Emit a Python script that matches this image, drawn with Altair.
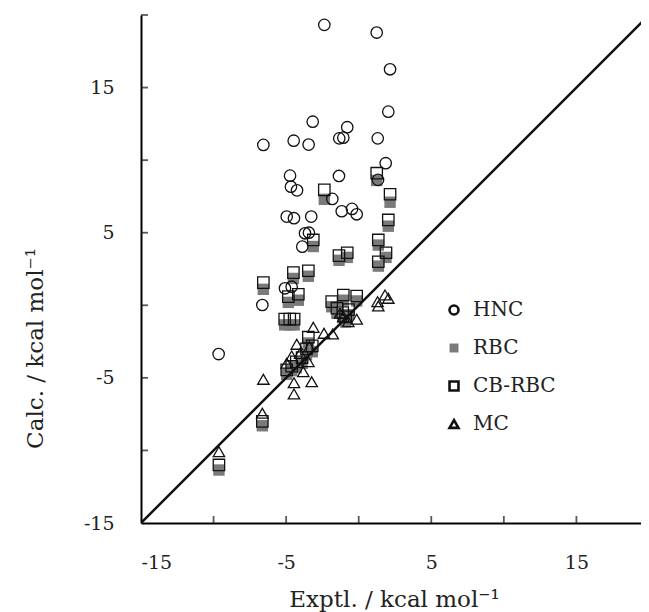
import altair as alt
import pandas as pd

# ---- data ----
hnc_x = [-2.37, 1.24, 2.16, 2.04, -3.17, -0.79, -1.34, -1.06, 1.31, -6.57, -4.48, -3.45, 1.86,
         -4.73, -1.36, 1.33, -4.67, -4.25, -1.82, -1.17, -0.46, -0.14, -4.96, -4.46, -3.27,
         -3.70, -3.43, -3.89, -5.08, -4.62, -6.64, -9.65]
hnc_y = [19.32, 18.79, 16.26, 13.34, 12.65, 12.27, 11.5, 11.55, 11.5, 11.05, 11.34, 11.07, 9.79,
         8.93, 8.91, 8.64, 8.17, 7.92, 7.33, 6.48, 6.64, 6.27, 6.11, 6.0, 6.11,
         4.96, 5.0, 4.04, 1.17, 1.28, 0.02, -3.36]

cb_x = [1.24, -2.37, 2.16, 2.04, -3.13, 1.35, -1.36, -0.79, 1.88, 1.35, -6.57, -4.5, -3.47,
        -4.85, -4.16, -5.1, -4.75, -4.45, -1.86, -1.06, -0.14, -1.5, -1.1, -0.7, -0.9,
        -3.47, -3.6, -3.2, -3.9, -4.3, -4.96, -4.62, -6.64, -9.63]
cb_y = [9.1, 7.95, 7.65, 5.88, 4.5, 4.5, 3.42, 3.62, 3.62, 3.0, 1.56, 2.25, 2.38,
        0.6, 0.76, -0.95, -0.95, -0.95, 0.25, 0.71, 0.64, -0.2, -0.5, -0.3, -0.8,
        -2.2, -3.0, -2.8, -3.6, -3.9, -4.45, -4.2, -8.0, -11.0]

rbc_x = [1.24, -2.37, 2.16, 2.04, -3.13, 1.35, -1.36, -0.79, 1.88, 1.35, -6.57, -4.5, -3.47,
         -4.85, -4.16, -5.1, -4.75, -4.45, -1.86, -1.06, -0.14, -1.5, -1.1, -0.7, -0.9,
         -3.47, -3.6, -3.2, -3.9, -4.3, -4.96, -4.62, -6.64, -9.63]
rbc_y = [8.6, 7.3, 7.1, 5.45, 4.05, 4.15, 3.1, 3.3, 3.3, 2.7, 1.1, 1.85, 2.0,
         0.2, 0.35, -1.35, -1.35, -1.35, -0.1, 0.35, 0.3, -0.55, -0.85, -0.65, -1.15,
         -2.6, -3.4, -3.2, -4.0, -4.3, -4.75, -4.5, -8.3, -11.35]

mc_x = [1.81, 2.04, 1.30, 1.35, -3.13, -2.39, -1.79, -4.27, -4.62, -4.96, -6.57, -3.24,
        -4.46, -4.46, -3.82, -3.47, -6.64, -9.63, -0.72, -0.14, -1.29, -1.06, -4.04, -3.4]
mc_y = [0.71, 0.48, 0.25, -0.05, -1.52, -1.93, -1.98, -2.69, -3.49, -3.99, -5.1, -5.27,
        -5.33, -6.11, -4.57, -3.88, -7.44, -10.09, -1.13, -0.96, -0.55, -0.78, -3.31, -2.85]

series_names = ["HNC", "RBC", "CB-RBC", "MC"]
diag_vals = [-15, 20]
x_tick_vals = [-10, -5, 0, 5, 10, 15]
y_tick_vals = [-10, -5, 0, 5, 10, 15, 20]
label_vals = [-15, -5, 5, 15]

FONT = "DejaVu Serif"

rows = []
for name, xs, ys in [("RBC", rbc_x, rbc_y), ("CB-RBC", cb_x, cb_y),
                     ("HNC", hnc_x, hnc_y), ("MC", mc_x, mc_y)]:
    for a, b in zip(xs, ys):
        rows.append({"series": name, "x": a, "y": b})
df = pd.DataFrame(rows)
df["order"] = df["series"].map({"RBC": 0, "CB-RBC": 1, "HNC": 2, "MC": 3})

xscale = alt.Scale(domain=[-15, 19.45], nice=False, zero=False)
yscale = alt.Scale(domain=[-15, 20], nice=False, zero=False)

xaxis = alt.Axis(values=label_vals, ticks=False, tickSize=0, grid=False,
                 domainColor="black", domainWidth=2, labelFont=FONT, labelFontSize=19,
                 labelColor="#222", labelPadding=39, labelBaseline="middle",
                 labelExpr="'' + datum.value",
                 title="Exptl. / kcal mol⁻¹", titleFont=FONT, titleFontSize=23,
                 titleFontWeight="normal", titleColor="#222", titleX=253, titleY=83,
                 titleBaseline="alphabetic", titleAlign="center")
yaxis = alt.Axis(values=label_vals, ticks=False, tickSize=0, grid=False,
                 domainColor="black", domainWidth=2, labelFont=FONT, labelFontSize=19,
                 labelColor="#222", labelPadding=27, labelBaseline="middle",
                 labelExpr="'' + datum.value",
                 title="Calc. / kcal mol⁻¹", titleFont=FONT, titleFontSize=23,
                 titleFontWeight="normal", titleColor="#222", titleX=-99, titleY=333,
                 titleBaseline="alphabetic", titleAlign="center", titleAngle=270)

points = alt.Chart(df).mark_point(opacity=1, strokeWidth=1.3, size=130).encode(
    x=alt.X("x:Q", scale=xscale, axis=xaxis),
    y=alt.Y("y:Q", scale=yscale, axis=yaxis),
    shape=alt.Shape("series:N", scale=alt.Scale(domain=series_names,
                    range=["circle", "square", "square", "triangle-up"]),
                    legend=alt.Legend(title=None, orient="none", legendX=303, legendY=285,
                                      labelFont=FONT, labelFontSize=20, labelColor="#222",
                                      symbolSize=80, symbolStrokeWidth=2.6, rowPadding=18,
                                      labelOffset=9, padding=0)),
    fill=alt.Fill("series:N", scale=alt.Scale(domain=series_names,
                  range=["transparent", "#7a7a7a", "transparent", "transparent"]), legend=None),
    stroke=alt.Stroke("series:N", scale=alt.Scale(domain=series_names,
                      range=["#111", "transparent", "#111", "#111"]), legend=None),
    order=alt.Order("order:Q"),
)

diag = alt.Chart(pd.DataFrame({"v": diag_vals})).mark_line(
    color="#111", strokeWidth=2.5, clip=True).encode(
    x=alt.X("v:Q", scale=xscale), y=alt.Y("v:Q", scale=yscale))

xticks = alt.Chart(pd.DataFrame({"t": x_tick_vals})).mark_tick(
    orient="vertical", size=7, thickness=1.8, color="#111", yOffset=-3.5).encode(
    x=alt.X("t:Q", scale=xscale), y=alt.datum(-15, scale=yscale))

yticks = alt.Chart(pd.DataFrame({"t": y_tick_vals})).mark_tick(
    orient="horizontal", size=7, thickness=1.8, color="#111", xOffset=3.5).encode(
    y=alt.Y("t:Q", scale=yscale), x=alt.datum(-15, scale=xscale))

chart = alt.layer(points, diag, xticks, yticks).properties(
    width=500, height=508,
    autosize=alt.AutoSizeParams(type="none"),
    padding={"left": 133, "top": 7, "right": 0, "bottom": 90},
).configure_view(stroke=None).resolve_scale(shape="shared")

chart.save("out.html", embed_options={"renderer": "svg", "actions": False})
